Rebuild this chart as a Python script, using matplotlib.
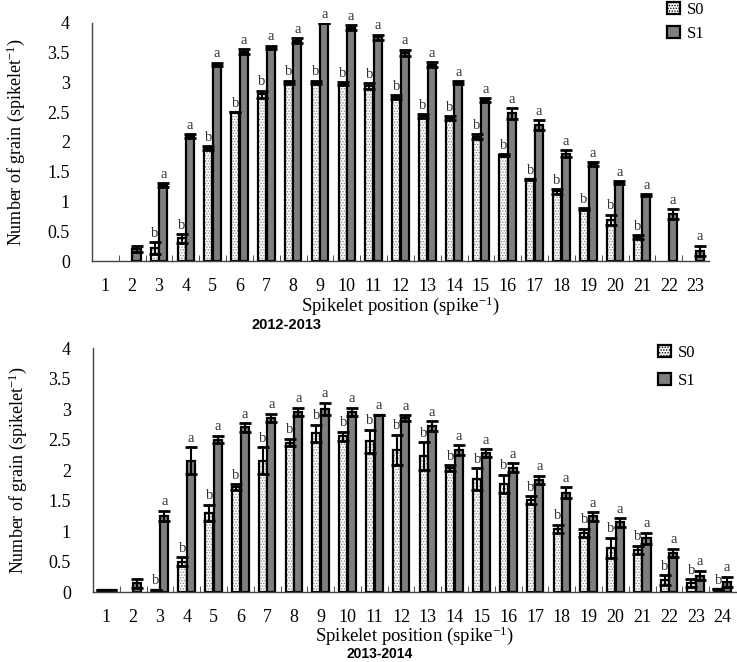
import matplotlib.pyplot as plt
import numpy as np
from matplotlib.patches import Patch

plt.rcParams['font.family'] = ['Liberation Serif', 'DejaVu Serif']
plt.rcParams['mathtext.default'] = 'regular'
plt.rcParams['hatch.linewidth'] = 0.7

# 2012-2013 season
pos_a = list(range(1, 24))
s0_a = [0, 0, 0.22, 0.38, 1.90, 2.50, 2.80, 3.00, 3.00, 2.98, 2.94, 2.76, 2.44, 2.40,
        2.09, 1.78, 1.37, 1.17, 0.87, 0.69, 0.40, 0, 0]
s0_a_err = [0, 0, 0.10, 0.07, 0.03, 0.0, 0.06, 0.03, 0.03, 0.03, 0.05, 0.03, 0.03, 0.03,
            0.04, 0.02, 0.01, 0.04, 0.02, 0.09, 0.03, 0, 0]
s1_a = [0, 0.20, 1.28, 2.10, 3.30, 3.52, 3.59, 3.70, 4.00, 3.92, 3.76, 3.50, 3.30, 3.00,
        2.71, 2.48, 2.29, 1.80, 1.63, 1.32, 1.11, 0.79, 0.17]
s1_a_err = [0, 0.05, 0.03, 0.03, 0.03, 0.04, 0.03, 0.04, 0.0, 0.04, 0.04, 0.05, 0.04, 0.02,
            0.03, 0.09, 0.08, 0.06, 0.03, 0.02, 0.01, 0.08, 0.09]
sig0_a = ['', '', 'b', 'b', 'b', 'b', 'b', 'b', 'b', 'b', 'b', 'b', 'b', 'b',
          'b', 'b', 'b', 'b', 'b', 'b', 'b', '', '']
sig1_a = ['', '', 'a', 'a', 'a', 'a', 'a', 'a', 'a', 'a', 'a', 'a', 'a', 'a',
          'a', 'a', 'a', 'a', 'a', 'a', 'a', 'a', 'a']

# 2013-2014 season
pos_b = list(range(1, 25))
s0_b = [0.04, 0, 0.04, 0.50, 1.30, 1.72, 2.15, 2.45, 2.60, 2.55, 2.47, 2.33, 2.23, 2.03,
        1.85, 1.77, 1.51, 1.03, 0.97, 0.72, 0.69, 0.20, 0.15, 0.05]
s0_b_err = [0.0, 0, 0.0, 0.07, 0.13, 0.05, 0.22, 0.06, 0.14, 0.08, 0.19, 0.25, 0.23, 0.05,
            0.18, 0.15, 0.06, 0.07, 0.07, 0.17, 0.07, 0.08, 0.06, 0.0]
s1_b = [0.04, 0.14, 1.25, 2.15, 2.50, 2.70, 2.85, 2.95, 3.00, 2.95, 2.91, 2.85, 2.72, 2.33,
        2.28, 2.04, 1.84, 1.63, 1.24, 1.14, 0.88, 0.64, 0.27, 0.17]
s1_b_err = [0.0, 0.08, 0.08, 0.22, 0.06, 0.07, 0.07, 0.07, 0.10, 0.07, 0.0, 0.05, 0.08, 0.08,
            0.06, 0.07, 0.07, 0.09, 0.07, 0.07, 0.09, 0.07, 0.08, 0.08]
sig0_b = ['', '', 'b', 'b', 'b', 'b', 'b', 'b', 'b', 'b', 'b', 'b', 'b', 'b',
          'b', 'b', 'b', 'b', 'b', 'b', 'b', 'b', 'b', 'b']
sig1_b = ['', '', 'a', 'a', 'a', 'a', 'a', 'a', 'a', 'a', 'a', 'a', 'a', 'a',
          'a', 'a', 'a', 'a', 'a', 'a', 'a', 'a', 'a', 'a']

bw = 0.3
off = 0.16
ps = 13
dots = '......'


def panel(ax, pos, s0, e0, s1, e1, g0, g1):
    pos = np.array(pos, dtype=float)
    for x, v, e, g, dx, fc, hatch in (
            [(p, a, b, c, -off, 'white', dots) for p, a, b, c in zip(pos, s0, e0, g0)] +
            [(p, a, b, c, off, '#7f7f7f', None) for p, a, b, c in zip(pos, s1, e1, g1)]):
        if v <= 0:
            continue
        if hatch:
            # grey stipple layer, then black outline on top
            ax.bar(x + dx, v, width=bw, color=fc, edgecolor='#8a8a8a', hatch=hatch, linewidth=0)
            ax.bar(x + dx, v, width=bw, facecolor='none', edgecolor='black', linewidth=1.6)
        else:
            ax.bar(x + dx, v, width=bw, color=fc, edgecolor='black', linewidth=1.6)
        ax.errorbar(x + dx, v, yerr=e, fmt='none', ecolor='black', elinewidth=1.5,
                    capsize=4.5, capthick=2)
        if g:
            ax.text(x + dx, v + e + 0.04, g, ha='center', va='bottom', fontsize=10.5,
                    color='#333333', clip_on=False)
    ax.set_xlim(0.5, len(pos) + 0.5)
    ax.set_ylim(0, 4)
    ax.set_yticks([0, 0.5, 1, 1.5, 2, 2.5, 3, 3.5, 4])
    ax.set_yticklabels(['0', '0.5', '1', '1.5', '2', '2.5', '3', '3.5', '4'])
    ax.set_xticks(pos)
    ax.set_xticks(pos[:-1] + 0.5, minor=True)
    ax.tick_params(axis='x', which='major', length=0, pad=12, labelsize=ps)
    ax.tick_params(axis='x', which='minor', length=4, direction='in', color='#333333')
    ax.tick_params(axis='y', which='major', length=0, pad=16, labelsize=ps)
    for s in ['top', 'right']:
        ax.spines[s].set_visible(False)
    for s in ['left', 'bottom']:
        ax.spines[s].set_color('#444444')
        ax.spines[s].set_linewidth(1.0)
    ax.set_ylabel('Number of grain (spikelet$^{-1}$)', fontsize=13)
    ax.set_xlabel('Spikelet position (spike$^{-1}$)', fontsize=13.5)


fig = plt.figure(figsize=(7.37, 6.62), dpi=100)
ax1 = fig.add_axes([0.1248, 0.6057, 0.8372, 0.3596])
ax2 = fig.add_axes([0.1262, 0.1057, 0.8724, 0.3686])

panel(ax1, pos_a, s0_a, s0_a_err, s1_a, s1_a_err, sig0_a, sig1_a)
panel(ax2, pos_b, s0_b, s0_b_err, s1_b, s1_b_err, sig0_b, sig1_b)

ax1.yaxis.set_label_coords(-0.105, 0.5)
ax2.yaxis.set_label_coords(-0.1, 0.5)
ax1.xaxis.set_label_coords(0.5, -0.14)
ax2.xaxis.set_label_coords(0.5, -0.135)

fig.text(287 / 737, 1 - 325 / 662, '2012-2013', ha='center', va='center',
         fontsize=10.5, fontweight='bold', family='Liberation Sans')
fig.text(380 / 737, 1 - 654 / 662, '2013-2014', ha='center', va='center',
         fontsize=10, fontweight='bold', family='Liberation Sans')

handles = [Patch(facecolor='white', edgecolor='black', hatch=dots, linewidth=1.6),
           Patch(facecolor='#7f7f7f', edgecolor='black', linewidth=1.6)]
fig.legend(handles, ['S0', 'S1'], loc='upper left', bbox_to_anchor=(657 / 737, 1 + 8 / 662),
           frameon=False, fontsize=12, handlelength=0.8, handleheight=0.7,
           handletextpad=0.4, labelspacing=0.45, borderpad=0.1)
fig.legend(handles, ['S0', 'S1'], loc='upper left', bbox_to_anchor=(648 / 737, 1 - 335 / 662),
           frameon=False, fontsize=12, handlelength=0.8, handleheight=0.7,
           handletextpad=0.4, labelspacing=0.7, borderpad=0.1)

fig.savefig('out.png', dpi=100)
